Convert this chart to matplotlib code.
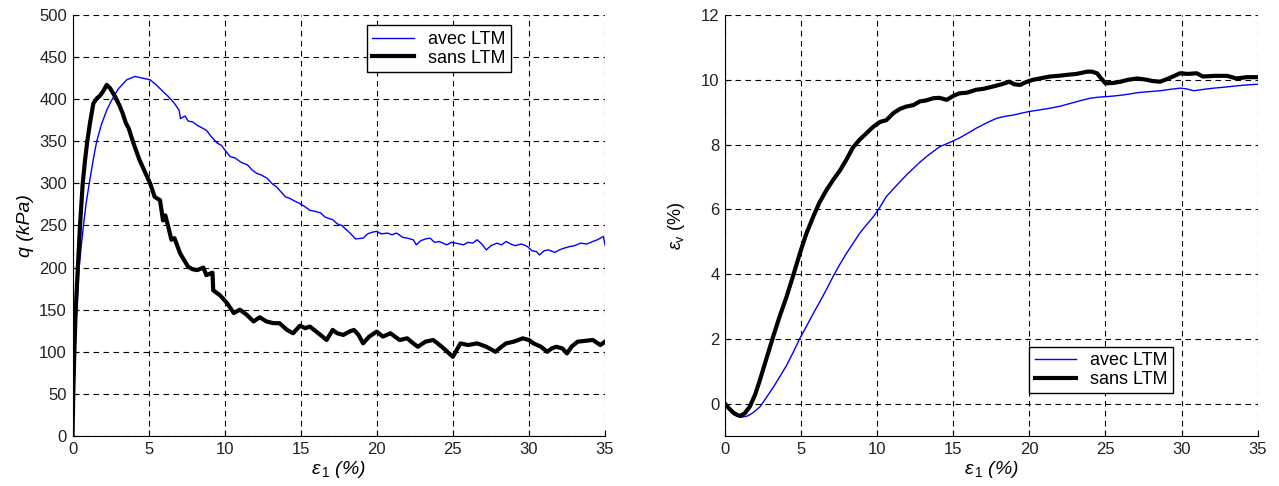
import numpy as np
import matplotlib
matplotlib.use("Agg")
import matplotlib.pyplot as plt

plt.rcParams['font.family'] = ['Liberation Sans', 'DejaVu Sans']
plt.rcParams['mathtext.fontset'] = 'custom'
plt.rcParams['mathtext.rm'] = 'Liberation Sans'
plt.rcParams['mathtext.it'] = 'Liberation Sans:italic'

# q (kPa) vs eps1 (%) - avec LTM
q_avec_x = [0, 0.04, 0.1, 0.18, 0.28, 0.43, 0.71, 0.9, 1.1, 1.35, 1.59, 1.9, 2.25, 2.58, 3.0, 3.56, 4.1,
            4.6, 5.1, 5.5, 5.95, 6.3, 6.7, 7.0, 7.1, 7.4, 7.6, 7.9, 8.2, 8.5, 8.8, 9.1, 9.5, 9.8,
            10.0, 10.35, 10.7, 11.0, 11.2, 11.5, 11.8, 12.1, 12.4, 12.8, 13.1, 13.4, 13.7, 14.0, 14.3,
            14.6, 14.95, 15.3, 15.6, 15.9, 16.3, 16.6, 16.9, 17.1, 17.4, 17.7, 18.0, 18.3, 18.6, 19.1,
            19.4, 19.7, 20.0, 20.3, 20.7, 21.0, 21.3, 21.7, 22.0, 22.4, 22.6, 22.9, 23.2, 23.5, 23.8,
            24.1, 24.6, 24.9, 25.2, 25.7, 26.0, 26.3, 26.6, 26.9, 27.2, 27.5, 27.9, 28.2, 28.5, 28.8,
            29.1, 29.5, 29.9, 30.2, 30.5, 30.7, 31.0, 31.3, 31.7, 32.0, 32.3, 32.7, 33.0, 33.4, 33.8,
            34.2, 34.5, 34.9, 35.0]
q_avec = [40, 60, 90, 120, 150, 200, 249, 277, 300, 327, 350, 370, 387, 399, 412, 423, 427,
          425, 423, 417, 409, 403, 395, 387, 377, 380, 374, 373, 369, 366, 363, 356, 348, 345,
          340, 332, 330, 326, 324, 322, 316, 312, 310, 306, 300, 296, 290, 284, 282,
          279, 276, 272, 268, 267, 265, 260, 258, 257, 252, 250, 245, 240, 234, 235,
          240, 242, 243, 240, 241, 239, 241, 236, 235, 233, 227, 232, 234, 235, 230,
          231, 227, 230, 229, 227, 230, 229, 233, 228, 221, 226, 229, 227, 231, 228,
          226, 228, 225, 220, 219, 215, 220, 221, 218, 221, 223, 225, 226, 229, 228,
          231, 233, 237, 227]

# q (kPa) vs eps1 (%) - sans LTM
q_sans_x = [0, 0.05, 0.12, 0.21, 0.35, 0.49, 0.67, 0.82, 0.97, 1.15, 1.37, 1.6, 1.8, 2.0, 2.25, 2.47, 2.8,
            3.1, 3.3, 3.5, 3.7, 4.0, 4.4, 4.8, 5.1, 5.4, 5.75, 5.95, 6.1, 6.3, 6.5, 6.7, 7.07, 7.3,
            7.6, 7.9, 8.2, 8.6, 8.8, 9.2, 9.25, 9.7, 10.15, 10.6, 11.0, 11.45, 11.9, 12.3, 12.75,
            13.2, 13.6, 14.1, 14.5, 14.95, 15.3, 15.6, 16.3, 16.7, 17.1, 17.4, 17.8, 18.2, 18.5, 18.8,
            19.1, 19.5, 20.0, 20.4, 20.9, 21.2, 21.5, 22.0, 22.4, 22.7, 23.2, 23.7, 24.0, 24.4, 25.0,
            25.5, 26.0, 26.6, 27.2, 27.8, 28.2, 28.5, 29.0, 29.6, 30.0, 30.3, 30.8, 31.2, 31.5, 31.8,
            32.2, 32.5, 32.8, 33.2, 33.7, 34.2, 34.7, 35.0]
q_sans = [0, 51, 100, 150, 200, 249, 300, 327, 350, 372, 395, 401, 404, 409, 417, 413, 403,
          392, 383, 372, 365, 348, 328, 312, 300, 284, 280, 256, 262, 248, 233, 235, 217, 210,
          201, 198, 197, 200, 191, 194, 173, 167, 158, 146, 150, 144, 136, 141, 136,
          134, 134, 126, 122, 131, 128, 130, 120, 114, 126, 122, 120, 124, 126, 120,
          110, 118, 124, 118, 122, 118, 114, 116, 110, 106, 112, 114, 110, 104, 94,
          110, 108, 110, 106, 100, 106, 110, 112, 116, 114, 110, 106, 100, 104, 106,
          104, 98, 106, 112, 113, 114, 108, 112]

# eps_v (%) vs eps1 (%) - avec LTM
v_avec_x = [0, 0.3, 0.6, 1.1, 1.5, 1.85, 2.3, 2.74, 3.2, 3.6, 4.05, 4.5, 4.93, 5.37, 5.8, 6.24,
            6.7, 7.1, 7.55, 8.0, 8.45, 8.87, 9.3, 9.75, 10.2, 10.6, 11.05, 11.5, 11.95, 12.4, 12.8,
            13.25, 13.7, 14.1, 14.8, 15.4, 16.0, 16.5, 17.2, 17.85, 18.4, 18.95, 19.5, 20.0, 20.7,
            21.35, 22.0, 22.7, 23.4, 24.0, 24.5, 25.1, 25.6, 26.15, 26.6, 27.1, 27.8, 28.6, 29.2,
            29.9, 30.3, 30.8, 31.4, 32.1, 32.8, 33.6, 34.3, 35.0]
v_avec = [0.0, -0.2, -0.35, -0.42, -0.38, -0.28, -0.1, 0.2, 0.52, 0.83, 1.18, 1.6, 2.02, 2.4, 2.78, 3.15,
          3.55, 3.92, 4.3, 4.65, 4.97, 5.27, 5.52, 5.77, 6.08, 6.39, 6.62, 6.85, 7.07, 7.27, 7.45,
          7.63, 7.79, 7.93, 8.07, 8.2, 8.36, 8.5, 8.67, 8.81, 8.87, 8.91, 8.97, 9.02, 9.07,
          9.12, 9.18, 9.27, 9.36, 9.43, 9.46, 9.48, 9.5, 9.53, 9.56, 9.6, 9.63, 9.66, 9.7,
          9.74, 9.72, 9.66, 9.7, 9.74, 9.77, 9.81, 9.84, 9.86]

# eps_v (%) vs eps1 (%) - sans LTM
v_sans_x = [0, 0.25, 0.53, 0.8, 1.0, 1.3, 1.64, 2.0, 2.3, 2.7, 3.17, 3.6, 4.05, 4.5, 4.93, 5.35,
            5.8, 6.2, 6.68, 7.1, 7.56, 8.0, 8.4, 8.85, 9.3, 9.75, 10.2, 10.6, 11.07, 11.5, 11.9,
            12.4, 12.8, 13.2, 13.7, 14.1, 14.57, 15.0, 15.4, 15.9, 16.5, 17.0, 17.6, 18.1, 18.7,
            19.0, 19.4, 19.8, 20.25, 20.8, 21.35, 21.9, 22.45, 23.1, 23.8, 24.1, 24.45, 24.7, 25.0,
            25.5, 26.0, 26.5, 27.1, 27.7, 28.1, 28.6, 29.2, 29.9, 30.4, 31.0, 31.4, 32.2, 33.0,
            33.6, 34.3, 35.0]
v_sans = [0.0, -0.14, -0.27, -0.35, -0.38, -0.3, -0.09, 0.3, 0.73, 1.35, 2.07, 2.7, 3.30, 3.98, 4.65, 5.25,
          5.77, 6.2, 6.6, 6.9, 7.2, 7.55, 7.9, 8.15, 8.35, 8.55, 8.7, 8.75, 8.97, 9.1, 9.17,
          9.22, 9.33, 9.36, 9.43, 9.44, 9.38, 9.5, 9.58, 9.6, 9.69, 9.72, 9.79, 9.85, 9.94,
          9.86, 9.84, 9.93, 10.0, 10.05, 10.1, 10.12, 10.15, 10.18, 10.25, 10.25, 10.2, 10.05, 9.89,
          9.9, 9.94, 10.0, 10.04, 10.0, 9.96, 9.94, 10.05, 10.2, 10.18, 10.2, 10.1, 10.12, 10.12,
          10.04, 10.08, 10.08]

fig = plt.figure(figsize=(12.79, 4.86), dpi=100)
ax1 = fig.add_axes([0.0567, 0.1029, 0.4163, 0.8663])
ax2 = fig.add_axes([0.5668, 0.1029, 0.4165, 0.8663])

grid_style = dict(color='k', linestyle=(0, (5, 4)), linewidth=0.8)

ax1.plot(q_avec_x, q_avec, color='#0000ff', lw=1.0, label='avec LTM')
ax1.plot(q_sans_x, q_sans, color='k', lw=3.0, label='sans LTM')
ax1.set_xlim(0, 35)
ax1.set_ylim(0, 500)
ax1.set_xticks(np.arange(0, 36, 5))
ax1.set_yticks(np.arange(0, 501, 50))
ax1.set_ylabel('q (kPa)', fontsize=14, style='italic', labelpad=4)
ax1.set_xlabel(r'$\varepsilon_{\,1}$ (%)', fontsize=14, style='italic', labelpad=2)
leg1 = ax1.legend(loc='upper left', bbox_to_anchor=(0.553, 0.975), fontsize=13,
                  fancybox=False, edgecolor='k', framealpha=1, borderpad=0.3,
                  handlelength=2.3, labelspacing=0.1, borderaxespad=0)

ax2.plot(v_avec_x, v_avec, color='#0000ff', lw=1.0, label='avec LTM')
ax2.plot(v_sans_x, v_sans, color='k', lw=3.0, label='sans LTM')
ax2.set_xlim(0, 35)
ax2.set_ylim(-1, 12)
ax2.set_xticks(np.arange(0, 36, 5))
ax2.set_yticks(np.arange(0, 13, 2))
ax2.set_ylabel(r'$\varepsilon_{\mathrm{v}}$ (%)', fontsize=13, labelpad=10)
ax2.set_xlabel(r'$\varepsilon_{\,1}$ (%)', fontsize=14, style='italic', labelpad=2)
leg2 = ax2.legend(loc='upper left', bbox_to_anchor=(0.571, 0.212), fontsize=13,
                  fancybox=False, edgecolor='k', framealpha=1, borderpad=0.3,
                  handlelength=2.3, labelspacing=0.1, borderaxespad=0)

for ax, leg in ((ax1, leg1), (ax2, leg2)):
    ax.grid(True, **grid_style)
    ax.spines['top'].set_visible(False)
    ax.spines['right'].set_visible(False)
    ax.tick_params(direction='in', length=4, labelsize=12, pad=4)
    leg.get_frame().set_linewidth(1.0)
    for t in ax.get_xticklabels() + ax.get_yticklabels():
        t.set_color('#222222')

fig.savefig('out.png', dpi=100)
